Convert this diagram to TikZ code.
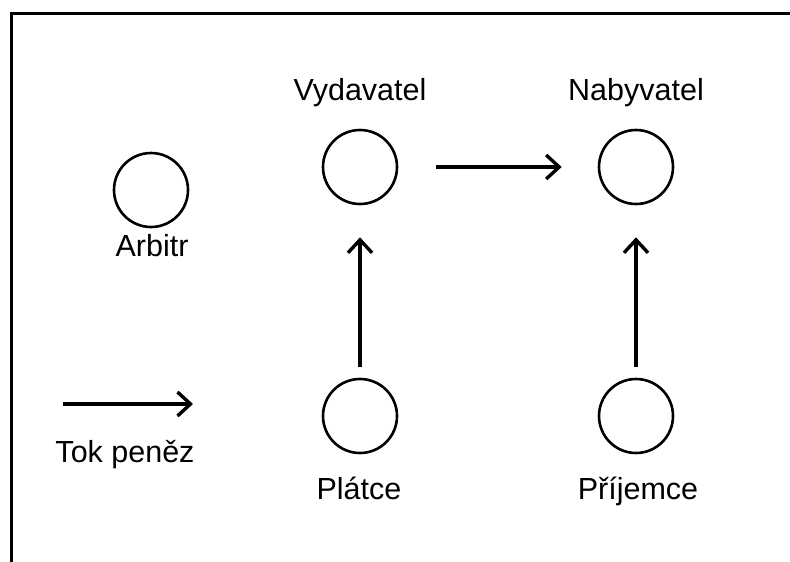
\documentclass[tikz,border=0pt]{standalone}
\usepackage{fontspec}
\setmainfont{Liberation Sans}
\usetikzlibrary{arrows.meta}
\tikzset{
  party/.style={circle,draw,line width=2.6pt,minimum size=74pt,inner sep=0pt},
  flow/.style={-{Straight Barb[length=13pt,width=24pt]},line width=3.4pt},
  partylabel/.style={anchor=base,font=\fontsize{30.5}{34}\selectfont}
}
\begin{document}
\begin{tikzpicture}[x=1pt,y=-1pt]
\useasboundingbox (0,0) rectangle (790,562);
\draw[line width=3pt] (11,562) -- (11,13) -- (790,13);
% parties
\node[party] (arbitr) at (151,190) {};
\node[party] (vydavatel) at (360,167) {};
\node[party] (nabyvatel) at (636,167) {};
\node[party] (platce) at (360,416) {};
\node[party] (prijemce) at (636,416) {};
\node[partylabel] (arbitrlab) at (152,256) {Arbitr};
\node[partylabel] (vydlab) at (360,100) {Vydavatel};
\node[partylabel] (nablab) at (636,100) {Nabyvatel};
\node[partylabel] (platcelab) at (359,499) {Plátce};
\node[partylabel] (prijlab) at (638,499) {Příjemce};
% money flow
\draw[flow] ([xshift=38pt]vydavatel.east) -- ([xshift=-36pt]nabyvatel.west);
\draw[flow] ([yshift=11pt]platce.north) -- ([yshift=-32pt]vydavatel.south);
\draw[flow] ([yshift=11pt]prijemce.north) -- ([yshift=-32pt]nabyvatel.south);
% legend
\coordinate (legstart) at (63,404);
\coordinate (legend) at (193,404);
\draw[flow] (legstart) -- (legend);
\node[partylabel] (leglab) at (125,462) {Tok peněz};
\end{tikzpicture}
\end{document}
